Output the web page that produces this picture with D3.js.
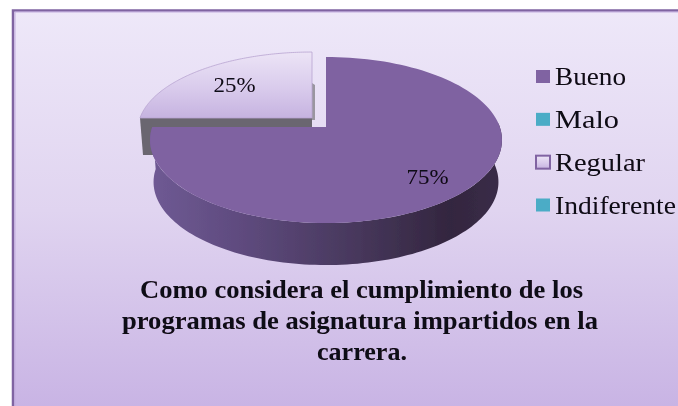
<!DOCTYPE html>
<html><head><meta charset="utf-8">
<script src="https://cdn.jsdelivr.net/npm/d3@7"></script>
<style>html,body{margin:0;padding:0;background:#fff}svg{display:block}text{font-family:"Liberation Serif",serif;fill:#0c0812}</style>
</head><body><svg id="c" width="678" height="406"></svg>
<script>
const categories=["Bueno","Malo","Regular","Indiferente"];
const values=[75,0,25,0];
const labels=["75%","","25%",""];
const titleLines=["Como considera el cumplimiento de los","programas de asignatura impartidos en la","carrera."];

const svg=d3.select("#c");
const defs=svg.append("defs");
function lin(id,x2,y2,stops){const g=defs.append("linearGradient").attr("id",id).attr("x1",0).attr("y1",0).attr("x2",x2).attr("y2",y2);
 stops.forEach(s=>g.append("stop").attr("offset",s[0]).attr("stop-color",s[1]));}
lin("bg",0,1,[[0,"#eee8f9"],[.5,"#e0d4f0"],[1,"#c8b3e4"]]);
lin("side",1,0,[[0,"#6f5a94"],[.25,"#5f4b7f"],[.55,"#4a3a60"],[.85,"#33263f"],[1,"#3a2c48"]]);
lin("slice",0,1,[[0,"#ece4f6"],[.55,"#d9cbec"],[1,"#c6b3e0"]]);
defs.append("filter").attr("id","soft").append("feGaussianBlur").attr("stdDeviation",.5);

// panel
svg.append("rect").attr("x",13).attr("y",10.5).attr("width",670).attr("height",400).attr("fill","url(#bg)").attr("stroke","#8064a2").attr("stroke-width",2.5);
svg.append("rect").attr("x",15).attr("y",12).attr("width",670).attr("height",400).attr("fill","none").attr("stroke","#c4aee0").attr("stroke-width",1);

// projection: a tilted circle seen in perspective
const k=.1566;
function projector(cx,cy,a,b){
  return (angle)=>{const u=Math.sin(angle),v=-Math.cos(angle),w=1-k*v;return [cx+b*u/w,cy+a*v/w];};
}
const pieData=d3.pie().sort(null).value(d=>d)(values);
const sweep=(s,e)=>d3.range(0,121).map(i=>s+(e-s)*i/120);
const line=d3.line();
const chart=svg.append("g").attr("filter","url(#soft)");

const main=projector(326,127,81,173.8), ex=projector(312,118,76.3,172);
const depth=42, wallScale=.98;
const bueno=pieData[0], regular=pieData[2];

// exploded Regular slice: grey walls first
const exPts=sweep(regular.startAngle,regular.endAngle).map(ex);
const p0=ex(regular.startAngle);
chart.append("path").attr("d",line([[p0[0],118],[312,118],[312,155],[p0[0]+3,155]])+"Z").attr("fill","#6b6670");
chart.append("path").attr("d",line([[312,83],[315,85],[315,120],[312,120]])+"Z").attr("fill","#9a96a0");
chart.append("path").attr("d",line([[312,118],...exPts])+"Z").attr("fill","url(#slice)").attr("stroke","#b8a3d0").attr("stroke-width",.8);

// Bueno: outer wall then the top face
const frontAngles=sweep(Math.PI*.5-.05,bueno.endAngle);
const rim=frontAngles.map(main);
const lower=rim.map(p=>[326+(p[0]-326)*wallScale,p[1]+depth]).reverse();
chart.append("path").attr("d",line([...rim,...lower])+"Z").attr("fill","url(#side)");
chart.append("path").attr("d",line([[326,127],...sweep(bueno.startAngle,bueno.endAngle).map(main)])+"Z").attr("fill","#7f62a1");

// data labels
const labelPos=[[427.5,184],null,[234.5,92],null];
const labelG=svg.append("g").attr("filter","url(#soft)");
labels.forEach((t,i)=>{if(t)labelG.append("text").attr("x",labelPos[i][0]).attr("y",labelPos[i][1]).attr("text-anchor","middle").attr("font-size",22).attr("textLength",42).attr("lengthAdjust","spacingAndGlyphs").text(t);});

// legend
const colours=["#8064a2","#4bacc6","url(#slice)","#4bacc6"];
const legendWidths=[71,64,90,121];
const ly=d3.scalePoint().domain(categories).range([76.5,205]);
const lg=svg.append("g").attr("filter","url(#soft)");
categories.forEach((c,i)=>{
  const y=ly(c);
  lg.append("rect").attr("x",536).attr("y",y-6.5).attr("width",14).attr("height",13).attr("fill",colours[i]).attr("stroke",i==2?"#8064a2":"none").attr("stroke-width",i==2?2:0);
  lg.append("text").attr("x",555).attr("y",y+8.5).attr("font-size",26).attr("textLength",legendWidths[i]).attr("lengthAdjust","spacingAndGlyphs").text(c);
});

// title
const titleBox=[[140,443,298],[122,476,329],[317,90,360]];
const tg=svg.append("g").attr("filter","url(#soft)");
titleLines.forEach((t,i)=>tg.append("text").attr("x",titleBox[i][0]).attr("y",titleBox[i][2]).attr("font-size",26).attr("font-weight","bold").attr("textLength",titleBox[i][1]).attr("lengthAdjust","spacingAndGlyphs").text(t));
</script></body></html>
